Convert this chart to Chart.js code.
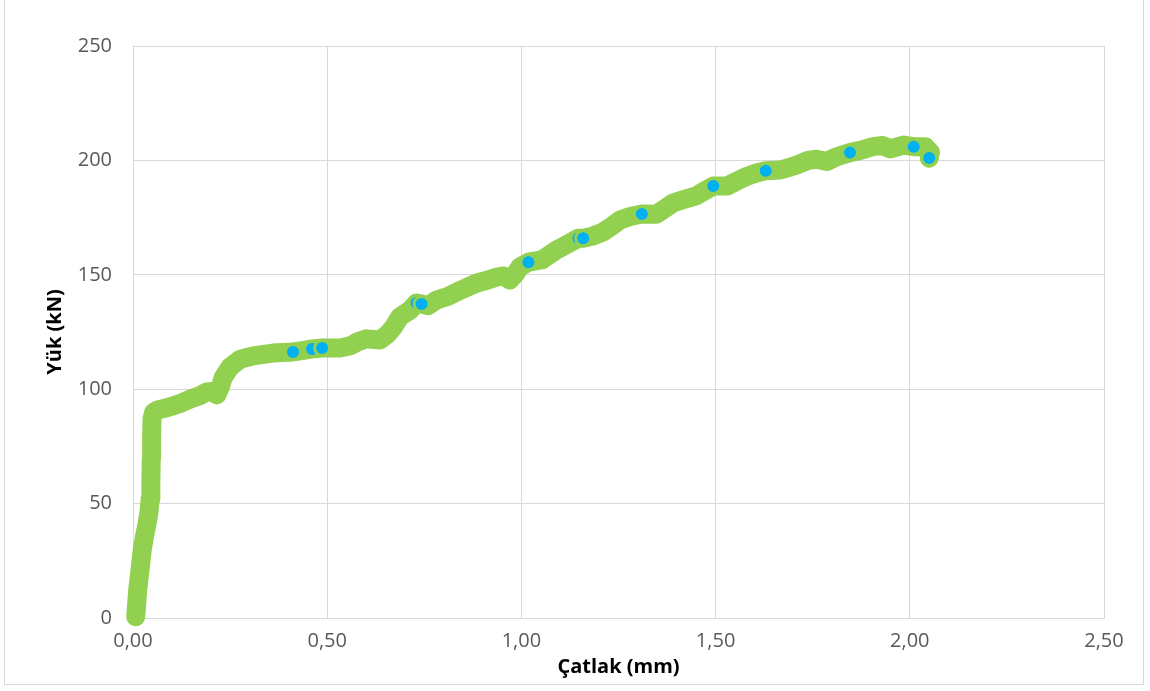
<!DOCTYPE html>
<html>
<head>
<meta charset="utf-8">
<script src="https://cdn.jsdelivr.net/npm/chart.js@4"></script>
<style>
  body { margin: 0; background: #fff; }
  #frame { position: absolute; left: 4px; top: -2px; width: 1138px; height: 685px; border: 1px solid #d9d9d9; }
  #chart { position: absolute; left: 0; top: 0; }
</style>
</head>
<body>
<div id="frame"></div>
<canvas id="chart" width="1150" height="691"></canvas>
<script>
// crack opening (mm) vs load (kN)
const crack = [0.007, 0.009, 0.012, 0.016, 0.02, 0.024, 0.03, 0.036, 0.041, 0.044, 0.046, 0.047, 0.048, 0.049, 0.053,
  0.065, 0.085, 0.103, 0.125, 0.147, 0.17, 0.19, 0.205, 0.216, 0.225, 0.232, 0.25, 0.275, 0.309, 0.36,
  0.412, 0.44, 0.461, 0.487, 0.533, 0.56, 0.577, 0.6, 0.636, 0.655, 0.67, 0.687, 0.713, 0.73, 0.743,
  0.76, 0.782, 0.81, 0.834, 0.86, 0.885, 0.91, 0.937, 0.955, 0.97, 0.985, 0.996, 1.018, 1.052, 1.07,
  1.09, 1.12, 1.147, 1.159, 1.185, 1.21, 1.235, 1.254, 1.28, 1.31, 1.348, 1.37, 1.39, 1.42, 1.45,
  1.47, 1.494, 1.53, 1.555, 1.58, 1.605, 1.629, 1.666, 1.69, 1.709, 1.738, 1.76, 1.787, 1.81, 1.846,
  1.875, 1.905, 1.93, 1.95, 1.984, 2.01, 2.04, 2.053, 2.05];
const load = [0.5, 5, 12, 18, 24, 30, 36, 41, 46, 52, 60, 70, 80, 87, 89.8,
  91, 91.8, 92.7, 94, 95.7, 97, 98.8, 99, 97.5, 101, 105, 109.7, 113, 114.6, 115.8,
  116.3, 117, 117.6, 118, 118, 119, 120.6, 122, 121.5, 124, 127, 131.6, 134.5, 137.7, 137.2,
  136.5, 139, 140.5, 142.5, 144.5, 146.4, 147.5, 149, 149.5, 147.7, 150.5, 153.4, 155.5, 156.5, 158.5,
  160.8, 163.5, 166, 166, 167, 168.7, 171.5, 174, 175.5, 176.6, 176.5, 179, 181.4, 183, 184.5,
  186.5, 188.8, 188.8, 191, 193, 194.5, 195.5, 195.8, 197, 198, 200, 200.5, 199.5, 201.5, 203.4,
  204.5, 206, 206.5, 205, 206.7, 206, 206, 203.5, 201];

// markers whose blue fill stays visible
const markCrack = [0.412, 0.461, 0.487, 0.73, 0.743, 1.018, 1.147, 1.159, 1.31, 1.494, 1.629, 1.846, 2.01, 2.05];
const markLoad = [116.3, 117.6, 118, 137.7, 137.2, 155.5, 166, 166, 176.6, 188.8, 195.5, 203.4, 206, 201];

const xTicks = [0, 0.5, 1, 1.5, 2, 2.5];
const yTicks = [0, 50, 100, 150, 200, 250];

const green = '#92D050';
const blue = '#00B0F0';
const gridColor = '#d9d9d9';
const tickFont = { family: 'Open Sans', size: 20 };
const titleFont = { family: 'Open Sans', size: 20, weight: 'bold' };

const curve = crack.map((x, i) => ({ x: x, y: load[i] }));
const marks = markCrack.map((x, i) => ({ x: x, y: markLoad[i] }));

new Chart(document.getElementById('chart'), {
  type: 'scatter',
  data: {
    datasets: [{
      data: marks,
      clip: false,
      pointRadius: 7.5,
      pointBorderWidth: 3,
      backgroundColor: blue,
      borderColor: green,
      pointHoverRadius: 7.5,
    }, {
      data: curve,
      clip: false,
      showLine: true,
      borderColor: green,
      borderWidth: 19,
      borderCapStyle: 'round',
      borderJoinStyle: 'round',
      tension: 0,
      pointRadius: 0,
    }],
  },
  options: {
    responsive: false,
    animation: false,
    layout: { padding: { left: 0, top: 46, right: 46, bottom: 0 } },
    plugins: {
      legend: { display: false },
      tooltip: { enabled: false },
    },
    scales: {
      x: {
        type: 'linear',
        min: 0,
        max: 2.5,
        afterFit: (scale) => { scale.height = 73; },
        afterBuildTicks: (scale) => { scale.ticks = xTicks.map(v => ({ value: v })); },
        grid: { color: gridColor, drawTicks: false },
        border: { color: gridColor },
        ticks: {
          padding: 11,
          color: '#595959',
          font: tickFont,
          callback: (v) => v.toFixed(2).replace('.', ','),
        },
        title: { display: true, text: 'Çatlak (mm)', color: '#000', font: titleFont, padding: { top: 0, bottom: 12 } },
      },
      y: {
        type: 'linear',
        min: 0,
        max: 250,
        afterFit: (scale) => { scale.width = 133; },
        afterBuildTicks: (scale) => { scale.ticks = yTicks.map(v => ({ value: v })); },
        grid: { color: gridColor, drawTicks: false },
        border: { color: gridColor },
        ticks: {
          padding: 21,
          color: '#595959',
          font: tickFont,
        },
        title: { display: true, text: 'Yük (kN)', color: '#000', font: titleFont, padding: { top: 43, bottom: 0 } },
      },
    },
  },
});
</script>
</body>
</html>
